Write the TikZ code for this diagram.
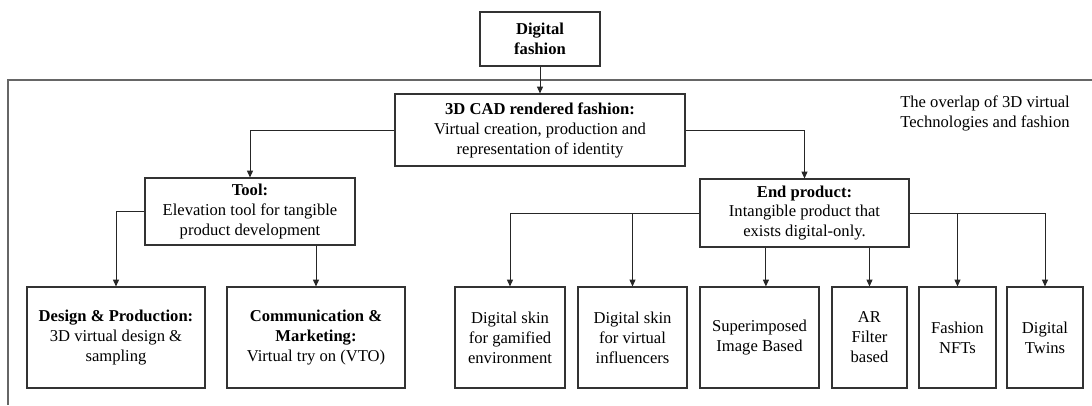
\documentclass[tikz,border=0pt]{standalone}
\usepackage{fontspec}
\setmainfont{Liberation Serif}
\usetikzlibrary{arrows.meta}

\tikzset{
    box/.style={draw=black!80, line width=0.8pt, align=center, inner sep=0pt,
        font=\fontsize{11.8}{14.2}\selectfont},
    arr/.style={draw=black!85, line width=0.7pt, -{Triangle[length=1.7mm,width=1.5mm]}}
}

\begin{document}
\begin{tikzpicture}
                \useasboundingbox (0,0) rectangle (27.3,10.125);

                % frame of the overlap area
                \draw[black!60, line width=1.1pt] (27.3,8.125) -- (0.2,8.125) -- (0.2,0);
                \node[align=left, anchor=west, inner sep=0pt, font=\fontsize{11.8}{14.2}\selectfont] (note) at (22.5,7.3) {The overlap of 3D virtual\\Technologies and fashion};

                \node[box, minimum width=3cm, minimum height=1.35cm] (dig) at (13.5,9.15) {\textbf{Digital}\\\textbf{fashion}};
                \node[box, minimum width=7.25cm, minimum height=1.8cm] (cad) at (13.5,6.875) {\textbf{3D CAD rendered fashion:}\\Virtual creation, production and\\representation of identity};

                \node[box, minimum width=5.25cm, minimum height=1.675cm] (tool) at (6.25,4.8375) {\textbf{Tool:}\\Elevation tool for tangible\\product development};
                \node[box, minimum width=5.225cm, minimum height=1.7cm] (endprod) at (20.1125,4.8) {\textbf{End product:}\\Intangible product that\\exists digital-only.};

                \node[box, minimum width=4.45cm, minimum height=2.525cm] (design) at (2.9,1.6875) {\textbf{Design \& Production:}\\3D virtual design \&\\sampling};
                \node[box, minimum width=4.45cm, minimum height=2.525cm] (comm) at (7.9,1.6875) {\textbf{Communication \&}\\\textbf{Marketing:}\\Virtual try on (VTO)};

                \node[box, minimum width=2.75cm, minimum height=2.525cm] (gam) at (12.75,1.6875) {Digital skin\\for gamified\\environment};
                \node[box, minimum width=2.725cm, minimum height=2.525cm] (infl) at (15.8125,1.6875) {Digital skin\\for virtual\\influencers};
                \node[box, minimum width=2.975cm, minimum height=2.525cm] (superimp) at (18.9875,1.6875) {Superimposed\\Image Based};
                \node[box, minimum width=1.875cm, minimum height=2.525cm] (arf) at (21.7375,1.6875) {AR\\Filter\\based};
                \node[box, minimum width=1.925cm, minimum height=2.525cm] (nft) at (23.9375,1.6875) {Fashion\\NFTs};
                \node[box, minimum width=1.9cm, minimum height=2.525cm] (twin) at (26.125,1.6875) {Digital\\Twins};

                \draw[arr] (dig.south) -- (cad.north);
                \draw[arr] (cad.west) -| (tool.north);
                \draw[arr] (cad.east) -| (endprod.north);

                \draw[arr] (tool.west) -| (design.north);
                \draw[arr] (tool.south -| comm.north) -- (comm.north);

                \draw[arr] (endprod.west) -| (gam.north);
                \draw[arr] (endprod.west) -| (infl.north);
                \draw[arr] ([xshift=1.6mm]superimp.north |- endprod.south) -- ([xshift=1.6mm]superimp.north);
                \draw[arr] (arf.north |- endprod.south) -- (arf.north);
                \draw[arr] (endprod.east) -| (nft.north);
                \draw[arr] (endprod.east) -| (twin.north);
            \end{tikzpicture}
\end{document}
